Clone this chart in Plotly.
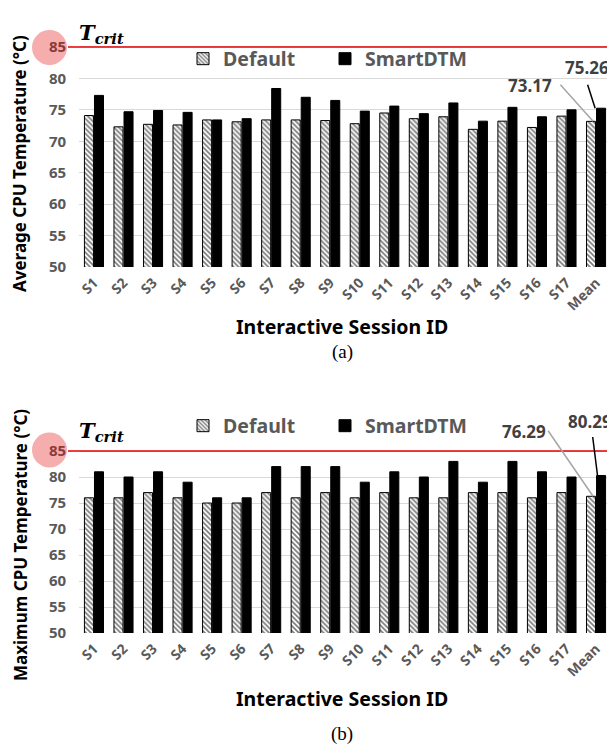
import plotly.graph_objects as go

sessions = ["S1", "S2", "S3", "S4", "S5", "S6", "S7", "S8", "S9", "S10",
            "S11", "S12", "S13", "S14", "S15", "S16", "S17", "Mean"]
avg_default = [74.1, 72.3, 72.7, 72.6, 73.4, 73.1, 73.4, 73.4, 73.3, 72.8,
               74.5, 73.6, 73.9, 71.9, 73.2, 72.2, 74.0, 73.17]
avg_smart = [77.3, 74.7, 74.9, 74.6, 73.4, 73.6, 78.4, 77.0, 76.5, 74.8,
             75.6, 74.4, 76.1, 73.2, 75.4, 73.9, 75.0, 75.26]
max_default = [76, 76, 77, 76, 75, 75, 77, 76, 77, 76,
               77, 76, 76, 77, 77, 76, 77, 76.29]
max_smart = [81, 80, 81, 79, 76, 76, 82, 82, 82, 79,
             81, 80, 83, 79, 83, 81, 80, 80.29]
ytick_vals = [50, 55, 60, 65, 70, 75, 80, 85]
t_crit = 85
y_min, y_max = 50, 85.6

# the page has an 8px body margin at left/top; the figure is placed so that
# window pixel (px, py) maps onto the figure
OFF = 8
W, H = 615 - OFF, 747 - OFF
def X(px):
    return (px - OFF) / W
def Y(py):
    return 1 - (py - OFF) / H

def ydomain(py_low, py_high_tick):
    # py_low: pixel of y_min, py_high_tick: pixel of t_crit
    ppd = (py_low - py_high_tick) / (t_crit - y_min)
    top = py_high_tick - (y_max - t_crit) * ppd
    return [Y(py_low), Y(top)]

GRAY = "#595959"
FONT = "Noto Sans"
mean_idx = len(sessions) - 1

fig = go.Figure()

def add_bars(yd, ys, xa, ya, leg):
    fig.add_trace(go.Bar(
        x=sessions, y=yd, name="Default", xaxis=xa, yaxis=ya, legend=leg,
        marker=dict(color="white", line=dict(color="black", width=1),
                    pattern=dict(shape="\\", size=3.5, solidity=0.5,
                                 fgcolor="black", bgcolor="white")),
    ))
    fig.add_trace(go.Bar(
        x=sessions, y=ys, name="SmartDTM", xaxis=xa, yaxis=ya, legend=leg,
        marker=dict(color="black", line=dict(color="black", width=1)),
    ))

add_bars(avg_default, avg_smart, "x", "y", "legend")
add_bars(max_default, max_smart, "x2", "y2", "legend2")

ticktext = [str(v) if v != t_crit else "<span style='color:#8b3a3a'>%d</span>" % v
            for v in ytick_vals]

xcommon = dict(type="category", tickangle=-45, showgrid=False, showline=False,
               ticks="", zeroline=False, automargin=False, ticklabelstandoff=4,
               tickfont=dict(family=FONT, size=14, color=GRAY, weight="bold"),
               domain=[X(79.2), X(610.8)])
ycommon = dict(range=[y_min, y_max], tickvals=ytick_vals, ticktext=ticktext,
               showgrid=True, gridcolor="#d9d9d9", gridwidth=1, zeroline=False,
               showline=False, ticks="", ticklabelstandoff=12, automargin=False,
               tickfont=dict(family=FONT, size=15, color=GRAY, weight="bold"))

legfont = dict(family=FONT, size=19.5, color=GRAY, weight="bold")
fig.update_layout(
    width=W, height=H, margin=dict(l=0, r=0, t=0, b=0, pad=0, autoexpand=False),
    paper_bgcolor="white", plot_bgcolor="white",
    barmode="group", bargap=0.32, bargroupgap=0.1,
    xaxis=dict(anchor="y", **xcommon),
    xaxis2=dict(anchor="y2", **xcommon),
    yaxis=dict(anchor="x", domain=ydomain(267, 47), **ycommon),
    yaxis2=dict(anchor="x2", domain=ydomain(633, 451), **ycommon),
    legend=dict(orientation="h", x=X(183), y=Y(59), xanchor="left", yanchor="middle",
                bgcolor="rgba(0,0,0,0)", entrywidth=97, entrywidthmode="pixels",
                font=legfont),
    legend2=dict(orientation="h", x=X(183), y=Y(426), xanchor="left", yanchor="middle",
                 bgcolor="rgba(0,0,0,0)", entrywidth=97, entrywidthmode="pixels",
                 font=legfont),
)

shapes = []
annotations = []
for ya, cy in (("y", 47.5), ("y2", 450)):
    shapes.append(dict(type="circle", xref="paper", yref="paper", layer="below",
                       x0=X(32), x1=X(67), y0=Y(cy + 17.5), y1=Y(cy - 17.5),
                       fillcolor="#f6adad", line=dict(width=0)))
    shapes.append(dict(type="line", xref="paper", yref=ya, x0=X(68), x1=1,
                       y0=t_crit, y1=t_crit, line=dict(color="#e60000", width=1.5)))

for ty in (33, 431):
    annotations.append(dict(xref="paper", yref="paper", x=X(77), y=Y(ty),
                            xanchor="left", yanchor="middle", showarrow=False,
                            text="<b><i>T</i></b><sub><b><i>crit</i></b></sub>",
                            font=dict(family="DejaVu Serif", size=21, color="black")))

for title, cy in (("Average CPU Temperature (°C)", 164), ("Maximum CPU Temperature (°C)", 545)):
    annotations.append(dict(xref="paper", yref="paper", x=X(20), y=Y(cy),
                            xanchor="center", yanchor="middle", showarrow=False,
                            textangle=-90, text="<b>%s</b>" % title,
                            font=dict(family=FONT, size=17, color="black")))

for ty, lab, ly in ((326, "(a)", 352), (698, "(b)", 734)):
    annotations.append(dict(xref="paper", yref="paper", x=X(342), y=Y(ty),
                            xanchor="center", yanchor="middle", showarrow=False,
                            text="<b>Interactive Session ID</b>",
                            font=dict(family=FONT, size=19.5, color="black")))
    annotations.append(dict(xref="paper", yref="paper", x=X(342), y=Y(ly),
                            xanchor="center", yanchor="middle", showarrow=False,
                            text=lab, font=dict(family="Liberation Serif", size=19, color="black")))

# mean value labels with leader lines
callouts = [
    ("x", "y", avg_default[-1], -0.1, -34, -38, "#a6a6a6", (530, 86)),
    ("x", "y", avg_smart[-1], -0.03, -8, -25, "black", (587, 67)),
    ("x2", "y2", max_default[-1], -0.1, -46, -67, "#a6a6a6", (523.5, 431.5)),
    ("x2", "y2", max_smart[-1], 0.05, -5, -40, "black", (590, 421.5)),
]
for xa, ya, val, off, ax, ay, col, (tx, ty) in callouts:
    annotations.append(dict(xref=xa, yref=ya, x=mean_idx + off, y=val,
                            ax=ax, ay=ay, axref="pixel", ayref="pixel",
                            text="", showarrow=True, arrowhead=0,
                            arrowwidth=1.5, arrowcolor=col, standoff=0, startstandoff=0))
    annotations.append(dict(xref="paper", yref="paper", x=X(tx), y=Y(ty),
                            xanchor="center", yanchor="middle", showarrow=False,
                            text="<b>%.2f</b>" % val,
                            font=dict(family=FONT, size=17, color="#404040")))

fig.update_layout(shapes=shapes, annotations=annotations)
fig.write_html("out.html")
